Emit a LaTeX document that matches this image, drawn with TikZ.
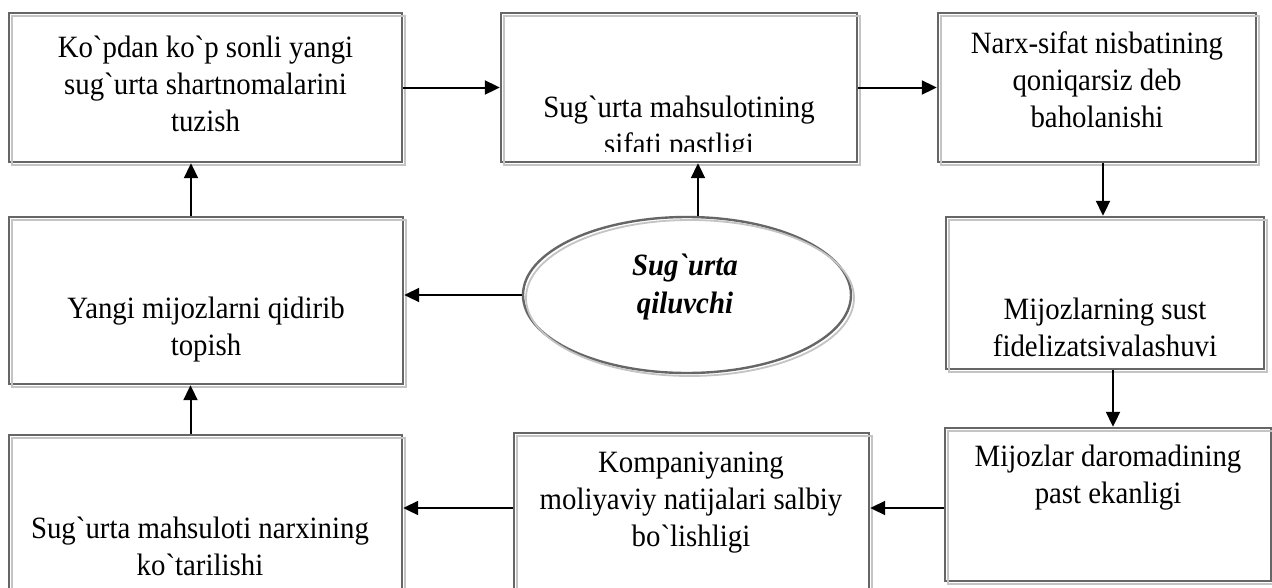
\documentclass[tikz,border=0pt]{standalone}
\usepackage{fontspec}
\setmainfont{Liberation Serif}[Ligatures=TeXOff, FakeStretch=0.93]
\usetikzlibrary{arrows.meta,shapes.geometric}
\newcommand\gv{\symbol{96}}
\definecolor{bdark}{HTML}{666666}
\definecolor{blight}{HTML}{C4C4C4}
\tikzset{
 boxsh/.style={draw=bdark, line width=2.4pt, fill=white, inner sep=0pt,
   postaction={draw=blight, line width=1.8pt, transform canvas={shift={(3pt,-3pt)}}}},
 rbox/.style={boxsh, rectangle},
 ebox/.style={boxsh, ellipse},
 txt/.style={anchor=north, align=center, inner sep=0pt, font=\fontsize{31}{37}\selectfont},
 etxt/.style={anchor=north, align=center, inner sep=0pt, font=\fontsize{31}{38}\selectfont\bfseries\itshape},
 arr/.style={-{Triangle[length=15pt,width=14pt]}, line width=2pt, draw=black},
}
\begin{document}
\begin{tikzpicture}[x=1pt,y=-1pt]
\useasboundingbox (0,0) rectangle (1272,587);
\clip (0,0) rectangle (1272,587);
\fill[white] (0,0) rectangle (1272,587);

% boxes
\node[rbox, minimum width=393pt, minimum height=149pt] (b1) at (205.5,87.5) {};
\node[rbox, minimum width=356pt, minimum height=149pt] (b2) at (679,87.5) {};
\node[rbox, minimum width=318pt, minimum height=149pt] (b3) at (1097,87.5) {};
\node[rbox, minimum width=318pt, minimum height=152pt] (b4) at (1105,293) {};
\node[rbox, minimum width=326pt, minimum height=153pt] (b5) at (1108,504.5) {};
\node[rbox, minimum width=355pt, minimum height=177pt] (b6) at (691.5,521.5) {};
\node[rbox, minimum width=393pt, minimum height=175pt] (b7) at (205.5,522.5) {};
\node[rbox, minimum width=394pt, minimum height=167pt] (b8) at (206,300.5) {};
\node[ebox, minimum width=328pt, minimum height=156pt] (e) at (687,295) {};

% texts
\node[txt] (t1) at (205.5,31) {\strut Ko\gv pdan ko\gv p sonli yangi\\ sug\gv urta shartnomalarini\\ tuzish};
\begin{scope}
\clip (502,14) rectangle (856,151);
\node[txt] (t2) at (679,91) {\strut Sug\gv urta mahsulotining\\ sifati pastligi};
\end{scope}
\node[txt] (t3) at (1097,27) {\strut Narx-sifat nisbatining\\ qoniqarsiz deb\\ baholanishi};
\node[txt] (t4) at (1105,293) {\strut Mijozlarning sust\\ fidelizatsivalashuvi};
\node[txt] (t5) at (1108,440) {\strut Mijozlar daromadining\\ past ekanligi};
\node[txt] (t6) at (691,446) {\strut Kompaniyaning\\ moliyaviy natijalari salbiy\\ bo\gv lishligi};
\node[txt] (t7) at (200,512) {\strut Sug\gv urta mahsuloti narxining\\ ko\gv tarilishi};
\node[txt] (t8) at (206,292) {\strut Yangi mijozlarni qidirib\\ topish};
\node[etxt] (te) at (685,249) {\strut Sug\gv urta\\ qiluvchi};

% arrows
\draw[arr] (b1.east) -- (b2.west);
\draw[arr] (b2.east) -- (b3.west);
\draw[arr] ([xshift=-2pt]b4.north |- b3.south) -- ([xshift=-2pt]b4.north);
\draw[arr] ([xshift=8pt]b4.south) -- ([xshift=8pt]b4.south |- b5.north);
\draw[arr] ([yshift=-3.5pt]b5.west) -- ([yshift=-3.5pt]b5.west -| b6.east);
\draw[arr] ([yshift=-3.5pt]b5.west -| b6.west) -- ([yshift=-3.5pt]b5.west -| b7.east);
\draw[arr] ([xshift=-15pt]b7.north) -- ([xshift=-15pt]b7.north |- b8.south);
\draw[arr] ([xshift=-15pt]b8.north) -- ([xshift=-15pt]b8.north |- b1.south);
\draw[arr] (e.west) -- (e.west -| b8.east);
\draw[arr] ([xshift=11pt]e.north) -- ([xshift=11pt]e.north |- b2.south);
\end{tikzpicture}
\end{document}
